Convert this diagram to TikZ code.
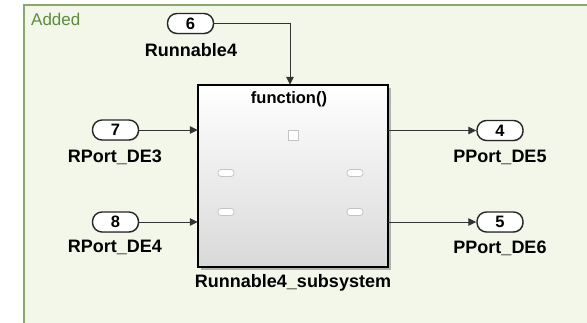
\documentclass[tikz,border=0pt]{standalone}
\usepackage{fontspec}
\setmainfont{Liberation Sans}
\usetikzlibrary{arrows.meta,shadows}
\definecolor{areafill}{HTML}{F2F7EA}
\definecolor{areaedge}{HTML}{8CA66C}
\definecolor{areatext}{HTML}{5E8A3C}
\definecolor{iconedge}{HTML}{C4C4C4}
\begin{document}
\begin{tikzpicture}[x=1pt,y=-1pt,
  port/.style={draw=black!85, line width=1.4pt, fill=white, rounded corners=9.5pt,
    minimum width=46pt, minimum height=20pt, inner sep=0pt,
    font=\bfseries\fontsize{16.5}{16.5}\selectfont,
    drop shadow={shadow xshift=0.8pt, shadow yshift=-0.8pt, fill=black!35, opacity=0.6}},
  plabel/.style={font=\bfseries\fontsize{18}{18}\selectfont, inner sep=0pt},
  wire/.style={line width=1pt, draw=black!80, -{Triangle[length=8pt,width=7.5pt]}},
  icon/.style={draw=iconedge, line width=0.8pt, fill=white, rounded corners=3pt,
    minimum width=16pt, minimum height=7pt, inner sep=0pt}]
  \useasboundingbox (0,0) rectangle (587,322);
  % subsystem area
  \fill[white] (0,0) rectangle (587,322);
  \draw[areaedge, line width=2.2pt, fill=areafill] (24,5) rectangle (600,340);
  \node[anchor=west, text=areatext, font=\fontsize{17}{17}\selectfont, inner sep=0pt] (added) at (31,19) {Added};

  % subsystem block with shadow and gradient
  \fill[black!30] (201,88) rectangle (391,270);
  \shade[top color=white, middle color=white!97!black, bottom color=black!15] (198,85) rectangle (388,267);
  \draw[line width=2.4pt] (198,85) rectangle (388,267);
  \node[draw=none, minimum width=190pt, minimum height=182pt, inner sep=0pt] (sub) at (293,176) {};
  \node[font=\bfseries\fontsize{16.5}{16.5}\selectfont, inner sep=0pt] (fn) at (289,99) {function()};
  \node[draw=iconedge, line width=0.8pt, fill=white, minimum size=10pt, inner sep=0pt] (trig) at (293.5,135) {};
  \node[icon] (in1) at (226,173) {};
  \node[icon] (in2) at (226,212) {};
  \node[icon] (out1) at (355,173) {};
  \node[icon] (out2) at (355,212) {};
  \node[plabel] (subname) at (293,283) {Runnable4\_subsystem};

  % inports and outports
  \node[port] (p6) at (190.5,23.5) {6};
  \node[plabel] (l6) at (191,50) {Runnable4};
  \node[port] (p7) at (115.5,130) {7};
  \node[plabel] (l7) at (115,157) {RPort\_DE3};
  \node[port] (p8) at (115.5,222) {8};
  \node[plabel] (l8) at (115,247.5) {RPort\_DE4};
  \node[port] (p4) at (500,130.5) {4};
  \node[plabel] (l4) at (500,157) {PPort\_DE5};
  \node[port] (p5) at (500,222) {5};
  \node[plabel] (l5) at (500,248) {PPort\_DE6};

  % signal lines
  \draw[wire] (p6.east) -| (sub.north -| 290,0);
  \draw[wire] (p7.east) -- (p7.east -| sub.west);
  \draw[wire] (p8.east) -- (p8.east -| sub.west);
  \draw[wire] (p4.west -| sub.east) -- (p4.west);
  \draw[wire] (p5.west -| sub.east) -- (p5.west);
\end{tikzpicture}
\end{document}
